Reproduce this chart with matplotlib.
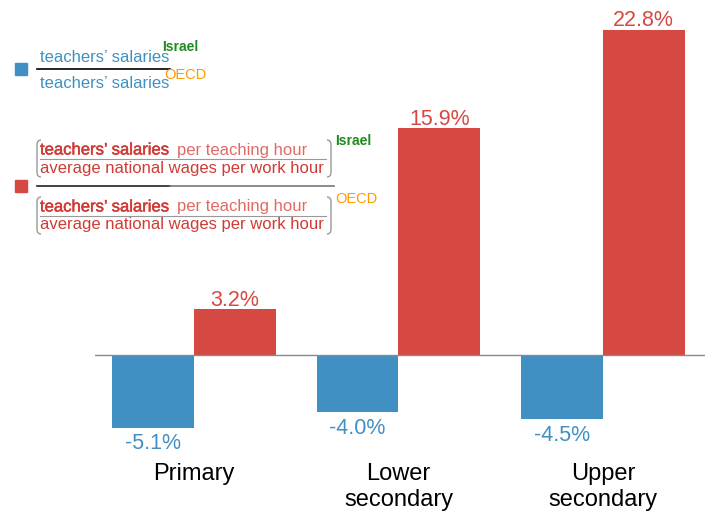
import matplotlib.pyplot as plt
from matplotlib.path import Path
from matplotlib.patches import PathPatch
import matplotlib.patheffects as pe
import numpy as np

plt.rcParams['font.family'] = ['Liberation Sans', 'DejaVu Sans']

categories = ["Primary", "Lower\nsecondary", "Upper\nsecondary"]
salaries = [-5.1, -4.0, -4.5]       # blue
per_hour = [3.2, 15.9, 22.8]        # red

blue = "#4190C3"
red = "#D64842"
red_light = "#E06B66"
green = "#1F8A1F"
orange = "#FF9A00"

W, H = 711, 512
fig = plt.figure(figsize=(W / 100, H / 100), dpi=100)
ax = fig.add_axes([95 / W, 0, 610 / W, 1])

x = np.arange(len(categories))
bw = 0.4
ax.bar(x - bw / 2, salaries, bw, color=blue)
ax.bar(x + bw / 2, per_hour, bw, color=red)
ax.axhline(0, color="#8a8a8a", lw=1)

for xi, v in zip(x, salaries):
    ax.annotate(f"{v:.1f}%", (xi - bw / 2, v), xytext=(0, -4), textcoords="offset points",
                ha="center", va="top", color=blue, fontsize=15.5)
for xi, v in zip(x, per_hour):
    ax.annotate(f"{v:.1f}%", (xi + bw / 2, v), xytext=(0, -1), textcoords="offset points",
                ha="center", va="bottom", color=red, fontsize=15.5)
for xi, c in zip(x, categories):
    ax.text(xi, -7.6, c, ha="center", va="top", fontsize=17, linespacing=1.2)

ax.set_xlim(-0.485, 2.5)
ax.set_ylim(-(H - 355) / 14.25, 355 / 14.25)
ax.axis("off")


def px(xp, yp):
    return xp / W, 1 - yp / H


def bracket(x0, y0, y1, side):
    # rounded bracket in pixel coords, side=1 opens right "(", -1 opens left ")"
    d = 4 * side
    verts = [(x0 + d, y0), (x0, y0), (x0, y0 + 5), (x0, y1 - 5), (x0, y1), (x0 + d, y1)]
    codes = [Path.MOVETO, Path.CURVE3, Path.CURVE3, Path.LINETO, Path.CURVE3, Path.CURVE3]
    verts = [px(a, b) for a, b in verts]
    fig.patches.append(PathPatch(Path(verts, codes), fill=False, ec="#9a9a9a", lw=1,
                                 transform=fig.transFigure))


fs = 12
semibold = [pe.withStroke(linewidth=0.35, foreground="#D03B36")]

# blue legend entry
fig.patches.append(plt.Rectangle(px(15, 75), 12 / W, 12 / H, transform=fig.transFigure, color=blue))
fig.text(*px(40, 57), "teachers\u2019 salaries", color=blue, fontsize=fs, va="center")
fig.lines.append(plt.Line2D([37 / W, 170 / W], [1 - 69 / H] * 2, color="black", lw=1.2,
                            transform=fig.transFigure))
fig.text(*px(40, 83), "teachers\u2019 salaries", color=blue, fontsize=fs, va="center")
fig.text(*px(162, 47), "Israel", color=green, fontsize=10, fontweight="bold", va="center")
fig.text(*px(164, 75), "OECD", color=orange, fontsize=10.5, va="center")

# red legend entry
fig.patches.append(plt.Rectangle(px(15, 192), 12 / W, 12 / H, transform=fig.transFigure, color=red))
fig.lines.append(plt.Line2D([37 / W, 170 / W], [1 - 186 / H] * 2, color="#222222", lw=1.2,
                            transform=fig.transFigure))
fig.lines.append(plt.Line2D([170 / W, 334 / W], [1 - 186 / H] * 2, color="#777777", lw=1.2,
                            transform=fig.transFigure))

for top, sup, scol, sy, bold in [(150, "Israel", green, 141, "bold"), (207, "OECD", orange, 199, "normal")]:
    fig.text(*px(40, top), "teachers\u2019 salaries", color="#D03B36", fontsize=fs, va="center",
             path_effects=semibold)
    fig.text(*px(177, top), "per teaching hour", color=red_light, fontsize=fs, va="center")
    fig.lines.append(plt.Line2D([40 / W, 326 / W], [1 - (top + 9) / H] * 2, color="#999999", lw=0.8,
                                transform=fig.transFigure))
    fig.text(*px(40, top + 18), "average national wages per work hour", color="#D03B36",
             fontsize=fs, va="center")
    bracket(37, top - 10, top + 27, 1)
    bracket(331, top - 10, top + 27, -1)
    fig.text(*px(335, sy), sup, color=scol, fontsize=10 if bold == "bold" else 10.5,
             fontweight=bold, va="center")

fig.savefig("out.png", dpi=100)
